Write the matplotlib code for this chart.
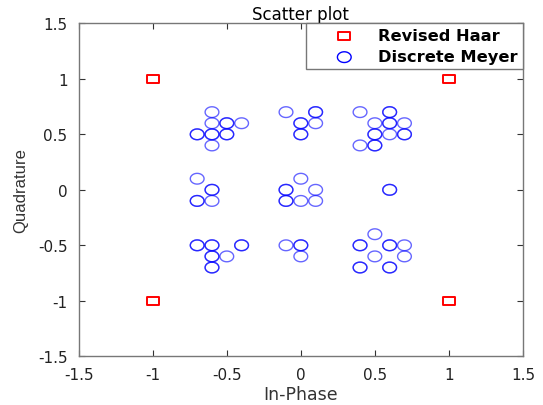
import numpy as np
import matplotlib.pyplot as plt
from matplotlib.path import Path
from matplotlib.markers import MarkerStyle

plt.rcParams['font.family'] = ['DejaVu Sans']

# Revised Haar constellation
haar_i = [-1, 1, -1, 1]
haar_q = [1, 1, -1, -1]

# Discrete Meyer constellation (repeated points are overlapping symbols)
meyer_i = [-0.6, -0.6, -0.5, -0.5, -0.4, -0.7, -0.7, -0.6, -0.6, -0.5, -0.5, -0.6,
           -0.1, 0.1, 0.1, 0.0, 0.0, 0.1, 0.0, 0.0,
           0.4, 0.6, 0.6, 0.5, 0.6, 0.6, 0.7, 0.5, 0.5, 0.6, 0.7, 0.7, 0.4, 0.5, 0.5,
           -0.7, -0.6, -0.6, -0.7, -0.7, -0.6,
           0.0, -0.1, -0.1, 0.1, -0.1, -0.1, 0.0, 0.1,
           0.6, 0.6,
           -0.7, -0.7, -0.6, -0.6, -0.4, -0.4, -0.6, -0.6, -0.5, -0.6, -0.6,
           -0.1, 0.0, 0.0, 0.0,
           0.5, 0.4, 0.4, 0.6, 0.6, 0.7, 0.5, 0.7, 0.4, 0.4, 0.6, 0.6]
meyer_q = [0.7, 0.6, 0.6, 0.6, 0.6, 0.5, 0.5, 0.5, 0.5, 0.5, 0.5, 0.4,
           0.7, 0.7, 0.7, 0.6, 0.6, 0.6, 0.5, 0.5,
           0.7, 0.7, 0.7, 0.6, 0.6, 0.6, 0.6, 0.5, 0.5, 0.5, 0.5, 0.5, 0.4, 0.4, 0.4,
           0.1, 0.0, 0.0, -0.1, -0.1, -0.1,
           0.1, 0.0, 0.0, 0.0, -0.1, -0.1, -0.1, -0.1,
           0.0, 0.0,
           -0.5, -0.5, -0.5, -0.5, -0.5, -0.5, -0.6, -0.6, -0.6, -0.7, -0.7,
           -0.5, -0.5, -0.5, -0.6,
           -0.4, -0.5, -0.5, -0.5, -0.5, -0.5, -0.6, -0.6, -0.7, -0.7, -0.7, -0.7]

ticks = [-1.5, -1, -0.5, 0, 0.5, 1, 1.5]
tick_labels = ['-1.5', '-1', '-0.5', '0', '0.5', '1', '1.5']

# slightly squashed symbols, like the original picture
t = np.linspace(0, 2 * np.pi, 60)
ellipse = MarkerStyle(Path(np.column_stack([np.cos(t), 0.78 * np.sin(t)]), closed=True))
rect = MarkerStyle(Path([(-1, -0.7), (1, -0.7), (1, 0.7), (-1, 0.7), (-1, -0.7)], closed=True))

fig = plt.figure(figsize=(5.43, 4.06), dpi=100)
ax = fig.add_axes([0.145, 0.12, 0.818, 0.82])

ax.scatter(haar_i, haar_q, marker=rect, s=78, facecolors='none',
           edgecolors='red', linewidths=1.4, label='Revised Haar')
ax.scatter(meyer_i, meyer_q, marker=ellipse, s=98, facecolors='none',
           edgecolors='blue', linewidths=1.0, alpha=0.6, label='Discrete Meyer')

ax.set_xlim(-1.5, 1.5)
ax.set_ylim(-1.5, 1.5)
ax.set_xticks(ticks)
ax.set_xticklabels(tick_labels)
ax.set_yticks(ticks)
ax.set_yticklabels(tick_labels)
ax.tick_params(direction='in', length=4, width=0.8, color='#333333',
               labelsize=11, labelcolor='#222222', top=True, right=True, pad=8)
for sp in ax.spines.values():
    sp.set_color('#777777')
    sp.set_linewidth(1.0)

ax.set_title('Scatter plot', fontsize=12, pad=3)
ax.set_xlabel('In-Phase', fontsize=12.5, color='#333333', labelpad=2)
ax.set_ylabel('Quadrature', fontsize=12, color='#333333', labelpad=7,
              family='Liberation Sans')

leg = ax.legend(loc='upper right', bbox_to_anchor=(1.0, 1.0), borderaxespad=0,
                prop={'weight': 'bold', 'size': 11.7}, fancybox=False,
                edgecolor='#777777', framealpha=1, handletextpad=0.05,
                borderpad=0.3, labelspacing=0.38, handlelength=4.1)
for lh in leg.legend_handles:
    lh.set_alpha(1.0)
leg.get_frame().set_linewidth(1.0)

fig.savefig('out.png', dpi=100)
